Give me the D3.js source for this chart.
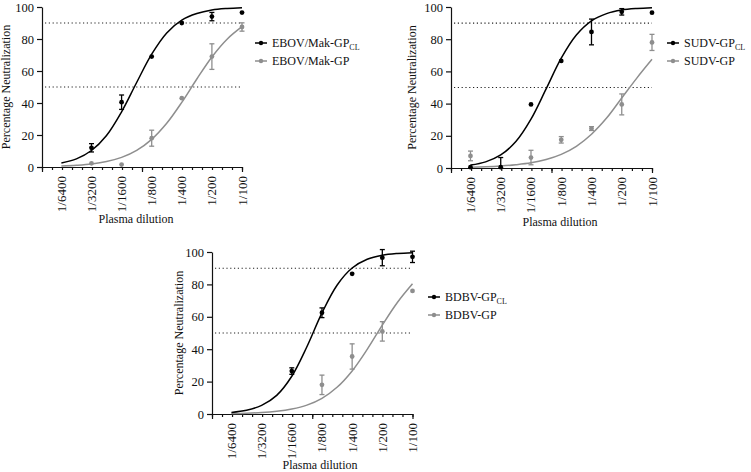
<!DOCTYPE html>
<html><head><meta charset="utf-8">
<script src="https://cdn.jsdelivr.net/npm/d3@7"></script>
<style>
body{margin:0;background:#fff}
text{font-family:"Liberation Serif","Times New Roman",serif;fill:#111}
</style>
</head><body>
<svg id="c" width="751" height="472"></svg>
<script>
// ---- data ----
const dilutionLabels = ["1/6400","1/3200","1/1600","1/800","1/400","1/200","1/100"];
const dilutionDenoms = [6400,3200,1600,800,400,200,100];
const fitDenoms = [6400,4525,3200,2263,1600,1131,800,566,400,283,200,141,100];
const yTicks = [0,20,40,60,80,100];
const refLines = [90,50];

// EBOV/Mak
const ebovClMean = [null,12,40.5,69,90,94,96.5];
const ebovClErr  = [0,2.6,4.5,0,0,2.6,0];
const ebovClFit  = [2.5,5.1,10.3,19.7,34.5,52.8,70.5,83.8,91.8,95.9,98.1,99.1,99.6];
const ebovMean   = [null,2.3,1.5,18,43,69,87.5];
const ebovErr    = [0,0,0,5,0,8,2.6];
const ebovFit    = [0.6,1.1,1.9,3.4,6.0,10.4,17.3,27.3,40.4,55.0,68.8,79.9,87.7];

// SUDV
const sudvClMean = [0.5,0.5,39.5,66.5,84.5,97,96.5];
const sudvClErr  = [0,6,0,0,8,2,0];
const sudvClFit  = [1.8,3.8,8.1,16.4,30.3,49.1,68.2,82.6,91.4,95.9,98.1,99.1,99.6];
const sudvMean   = [7.5,null,6.5,17.5,24.5,39.5,78];
const sudvErr    = [3,0,4.5,2,1.2,6.5,5];
const sudvFit    = [0.4,0.7,1.2,2.0,3.2,5.3,8.5,13.5,21,31,43.5,56,67.5];

// BDBV
const bdbvClMean = [null,null,26.5,62.5,86.5,96.5,97];
const bdbvClErr  = [0,0,2,3,0,5,3.5];
const bdbvClFit  = [1.0,2.3,5.3,11.5,23.3,41.5,62.4,79.5,90.1,95.5,98.0,99.1,99.6];
const bdbvMean   = [null,null,null,18,35.5,51,76];
const bdbvErr    = [0,0,0,6,7.8,6,0];
const bdbvFit    = [0.3,0.5,0.9,1.7,3.1,5.5,9.7,16.5,26.6,39.9,54.9,69.0,80.4];

const seriesNames = [
  ["EBOV/Mak-GP","CL"],["EBOV/Mak-GP",""],
  ["SUDV-GP","CL"],["SUDV-GP",""],
  ["BDBV-GP","CL"],["BDBV-GP",""]
];

// ---- layout / style ----
const BLACK = "#000", GRAY = "#8e8e8e";
const panels = [
  {x0:42,x1:242,yTop:7,yBot:167,yTitleX:10,xTitleX:136,xTitleY:223,legX:255,legY:43,
   series:[{mean:ebovClMean,err:ebovClErr,fit:ebovClFit,color:BLACK,name:seriesNames[0]},
           {mean:ebovMean,err:ebovErr,fit:ebovFit,color:GRAY,name:seriesNames[1]}]},
  {x0:451,x1:652,yTop:7,yBot:168,yTitleX:416,xTitleX:560,xTitleY:226,legX:667,legY:43,
   series:[{mean:sudvClMean,err:sudvClErr,fit:sudvClFit,color:BLACK,name:seriesNames[2]},
           {mean:sudvMean,err:sudvErr,fit:sudvFit,color:GRAY,name:seriesNames[3]}]},
  {x0:212,x1:412.5,yTop:252,yBot:414,yTitleX:183,xTitleX:320,xTitleY:469,legX:428,legY:297,
   series:[{mean:bdbvClMean,err:bdbvClErr,fit:bdbvClFit,color:BLACK,name:seriesNames[4]},
           {mean:bdbvMean,err:bdbvErr,fit:bdbvFit,color:GRAY,name:seriesNames[5]}]}
];

const svg = d3.select("#c");
const lg = d => Math.log10(1/d);

panels.forEach(p => {
  const g = svg.append("g");
  const x = d3.scaleLinear().domain([-4,-2]).range([p.x0,p.x1]);
  const y = d3.scaleLinear().domain([0,100]).range([p.yBot,p.yTop]);

  // reference dotted lines
  refLines.forEach(v => {
    g.append("line").attr("x1",p.x0+3).attr("x2",p.x1).attr("y1",y(v)).attr("y2",y(v))
      .attr("stroke","#222").attr("stroke-width",1.1).attr("stroke-dasharray","1.2,2.6");
  });

  // x axis: minor ticks every 0.1 log unit, major every 1
  const minor = d3.range(0,21).map(i => -4 + i*0.1);
  g.append("g").attr("transform",`translate(0,${p.yBot})`)
    .call(d3.axisBottom(x).tickValues(minor).tickSize(3).tickSizeOuter(0).tickFormat(""))
    .call(a => a.selectAll("line,path").attr("stroke","#111").attr("stroke-width",1.2));
  g.append("g").attr("transform",`translate(0,${p.yBot})`)
    .call(d3.axisBottom(x).tickValues([-4,-3,-2]).tickSize(5).tickSizeOuter(0).tickFormat(""))
    .call(a => a.select("path").remove())
    .call(a => a.selectAll("line").attr("stroke","#111").attr("stroke-width",1.2));
  dilutionDenoms.forEach((d,i) => {
    g.append("text")
      .attr("transform",`translate(${x(lg(d))+4.5},${p.yBot+9}) rotate(-90)`)
      .attr("text-anchor","end").attr("font-size",13).text(dilutionLabels[i]);
  });

  // y axis
  g.append("g").attr("transform",`translate(${p.x0},0)`)
    .call(d3.axisLeft(y).tickValues(yTicks).tickSize(5).tickSizeOuter(0).tickPadding(3))
    .call(a => a.selectAll("line,path").attr("stroke","#111").attr("stroke-width",1.2))
    .call(a => a.selectAll("text").attr("font-size",12.5).attr("font-family","Liberation Serif").attr("fill","#111"));

  // titles
  g.append("text").attr("transform",`translate(${p.yTitleX},${(p.yTop+p.yBot)/2}) rotate(-90)`)
    .attr("text-anchor","middle").attr("font-size",12).text("Percentage Neutralization");
  g.append("text").attr("x",p.xTitleX).attr("y",p.xTitleY)
    .attr("text-anchor","middle").attr("font-size",12).text("Plasma dilution");

  // series (gray first so black on top)
  p.series.slice().reverse().forEach(s => {
    const line = d3.line().x((v,i)=>x(lg(fitDenoms[i]))).y(v=>y(v)).curve(d3.curveCatmullRom);
    g.append("path").attr("d",line(s.fit)).attr("fill","none")
      .attr("stroke",s.color).attr("stroke-width",1.5);
    dilutionDenoms.forEach((d,i) => {
      const m = s.mean[i];
      if (m === null) return;
      const cx = x(lg(d));
      const e = s.err[i];
      if (e > 0) {
        const lo = y(Math.max(0,m-e)), hi = y(m+e);
        g.append("line").attr("x1",cx).attr("x2",cx).attr("y1",lo).attr("y2",hi)
          .attr("stroke",s.color).attr("stroke-width",1.3);
        [hi, m-e>0 ? lo : null].forEach(yy => {
          if (yy===null) return;
          g.append("line").attr("x1",cx-2.5).attr("x2",cx+2.5).attr("y1",yy).attr("y2",yy)
            .attr("stroke",s.color).attr("stroke-width",1.3);
        });
      }
      g.append("circle").attr("cx",cx).attr("cy",y(m)).attr("r",2.4).attr("fill",s.color);
    });
  });

  // legend
  p.series.forEach((s,k) => {
    const ly = p.legY + k*18;
    g.append("line").attr("x1",p.legX).attr("x2",p.legX+12).attr("y1",ly).attr("y2",ly)
      .attr("stroke",s.color).attr("stroke-width",1.5);
    g.append("circle").attr("cx",p.legX+6).attr("cy",ly).attr("r",2.2).attr("fill",s.color);
    const t = g.append("text").attr("x",p.legX+17).attr("y",ly+4).attr("font-size",12);
    t.append("tspan").text(s.name[0]);
    if (s.name[1]) t.append("tspan").attr("font-size",8).attr("dy",3).text(s.name[1]);
  });
});
</script>
</body></html>
